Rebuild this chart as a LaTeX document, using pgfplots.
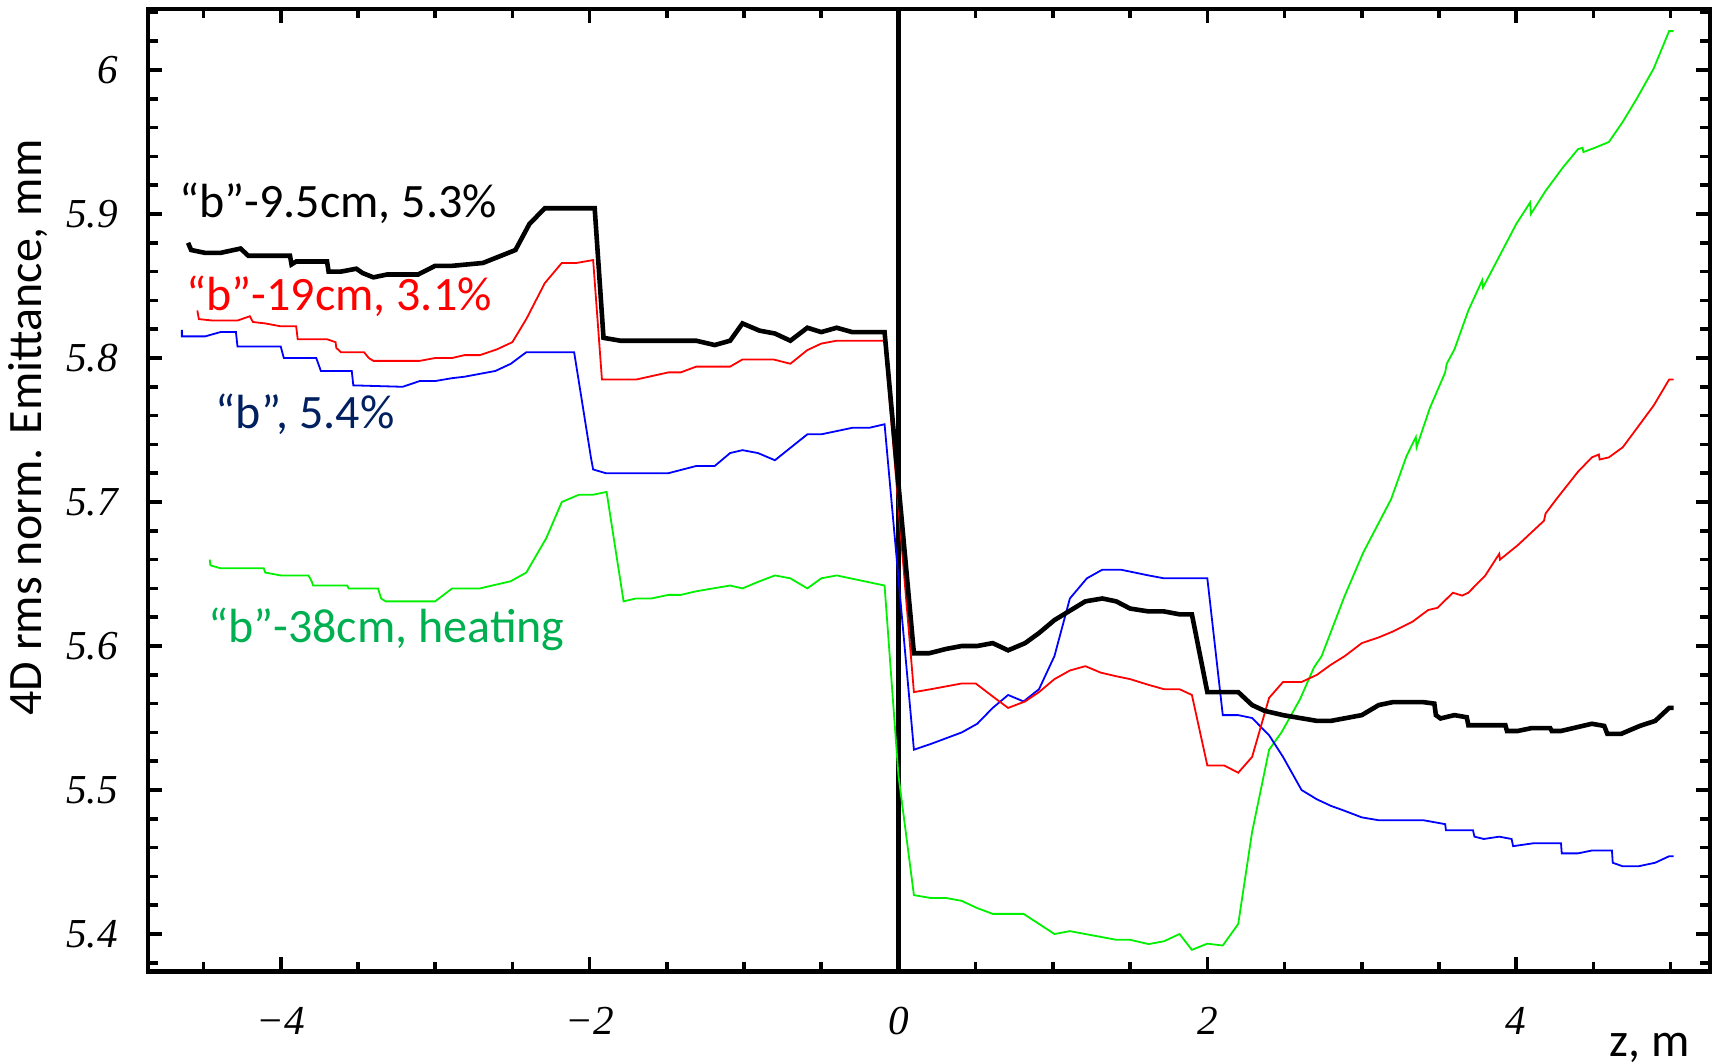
\documentclass[border=0pt]{standalone}
\usepackage{fontspec}
\setmainfont{Carlito}
\newfontfamily\tickfont{Liberation Serif}
\usepackage{pgfplots}
\pgfplotsset{compat=1.18}
\definecolor{lgreen}{RGB}{0,240,0}
\definecolor{txtgreen}{RGB}{0,176,80}
\definecolor{navy}{RGB}{0,32,96}
\newcommand{\tl}[1]{\mbox{\tickfont\itshape\fontsize{10.3}{12}\selectfont #1}}
\begin{document}
\begin{tikzpicture}
\begin{axis}[
  at={(0,0)}, anchor=south west,
  scale only axis, width=390.75pt, height=240.8pt,
  xmin=-4.86, xmax=5.255, ymin=5.374, ymax=6.0425,
  xtick={-4,-2,0,2,4}, xticklabels={\tl{−4},\tl{−2},\tl{0},\tl{2},\tl{4}},
  ytick={5.4,5.5,5.6,5.7,5.8,5.9,6.0}, yticklabels={\tl{5.4},\tl{5.5},\tl{5.6},\tl{5.7},\tl{5.8},\tl{5.9},\tl{6}},
  minor xtick={-4.5,-4,-3.5,-3,-2.5,-2,-1.5,-1,-0.5,0,0.5,1,1.5,2,2.5,3,3.5,4,4.5,5},
  minor ytick={5.38,5.42,5.44,5.46,5.48,5.52,5.54,5.56,5.58,5.62,5.64,5.66,5.68,5.72,5.74,5.76,5.78,5.82,5.84,5.86,5.88,5.92,5.94,5.96,5.98,6.02,6.04},
  major tick length=3.6pt, minor tick length=2.4pt,
  tick style={black, line width=0.9pt},
  axis line style={line width=1.05pt},
  xticklabel style={yshift=-5.5pt},
  yticklabel style={xshift=-4pt},
  ylabel={4D rms norm. Emittance, mm},
  ylabel style={at={(axis description cs:-0.077,0.565)}, anchor=center, font=\fontsize{12}{14}\selectfont},
  xlabel={z, m},
  xlabel style={at={(axis description cs:0.9613,-0.088)}, anchor=base, font=\fontsize{12}{14}\selectfont},
]
% vertical reference line at z=0
\addplot[black, line width=1.1pt] coordinates {(0,5.374) (0,6.0425)};

% green: "b"-38cm, heating
\addplot[lgreen, line width=0.45pt] table {
-4.46 5.660
-4.455 5.656
-4.39 5.654
-4.11 5.654
-4.10 5.651
-4.00 5.649
-3.82 5.649
-3.80 5.645
-3.79 5.642
-3.57 5.642
-3.56 5.640
-3.37 5.640
-3.35 5.633
-3.32 5.631
-3.00 5.631
-2.89 5.640
-2.71 5.640
-2.51 5.645
-2.41 5.651
-2.28 5.675
-2.18 5.700
-2.07 5.705
-1.98 5.705
-1.89 5.707
-1.78 5.631
-1.70 5.633
-1.60 5.633
-1.49 5.6355
-1.41 5.6355
-1.31 5.638
-1.09 5.642
-1.01 5.640
-0.91 5.6445
-0.80 5.649
-0.70 5.647
-0.59 5.640
-0.50 5.647
-0.40 5.649
-0.09 5.642
0.00 5.510
0.10 5.427
0.21 5.425
0.31 5.425
0.41 5.423
0.51 5.418
0.61 5.414
0.81 5.414
0.91 5.407
1.01 5.400
1.11 5.402
1.31 5.398
1.41 5.396
1.50 5.396
1.62 5.393
1.72 5.395
1.82 5.400
1.90 5.389
2.00 5.3933
2.10 5.392
2.20 5.407
2.29 5.471
2.40 5.528
2.48 5.540
2.60 5.563
2.69 5.585
2.74 5.593
2.89 5.635
3.01 5.665
3.19 5.702
3.29 5.732
3.35 5.745
3.355 5.738
3.44 5.765
3.54 5.790
3.55 5.796
3.60 5.806
3.69 5.833
3.78 5.854
3.785 5.849
4.00 5.893
4.09 5.908
4.095 5.900
4.19 5.916
4.30 5.932
4.40 5.945
4.43 5.946
4.435 5.943
4.51 5.946
4.60 5.950
4.69 5.964
4.78 5.980
4.89 6.001
4.99 6.027
5.02 6.027
};

% blue: "b", 5.4%
\addplot[blue, line width=0.45pt] table {
-4.64 5.8195
-4.64 5.815
-4.49 5.815
-4.39 5.818
-4.29 5.818
-4.28 5.808
-4.00 5.808
-3.98 5.800
-3.77 5.800
-3.74 5.791
-3.54 5.791
-3.53 5.781
-3.21 5.780
-3.10 5.784
-3.00 5.784
-2.89 5.786
-2.81 5.787
-2.61 5.791
-2.51 5.796
-2.41 5.804
-2.10 5.804
-1.99 5.730
-1.977 5.7226
-1.895 5.720
-1.49 5.720
-1.31 5.725
-1.19 5.725
-1.09 5.734
-1.01 5.736
-0.91 5.734
-0.80 5.729
-0.59 5.747
-0.50 5.747
-0.30 5.7515
-0.19 5.7515
-0.09 5.754
0.10 5.528
0.21 5.532
0.41 5.540
0.51 5.546
0.61 5.557
0.71 5.566
0.81 5.5615
0.91 5.570
1.01 5.593
1.11 5.633
1.22 5.647
1.32 5.653
1.44 5.653
1.62 5.649
1.72 5.647
2.00 5.647
2.10 5.552
2.20 5.552
2.29 5.550
2.40 5.538
2.49 5.523
2.61 5.500
2.71 5.4935
2.80 5.489
2.89 5.4855
3.00 5.481
3.11 5.479
3.40 5.479
3.54 5.4763
3.545 5.472
3.72 5.472
3.73 5.4676
3.79 5.466
3.89 5.4676
3.97 5.466
3.98 5.461
4.11 5.463
4.29 5.463
4.295 5.456
4.40 5.456
4.49 5.458
4.62 5.458
4.625 5.4495
4.69 5.447
4.79 5.447
4.90 5.4495
4.99 5.454
5.02 5.454
};

% red: "b"-19cm, 3.1%
\addplot[red, line width=0.45pt] table {
-4.54 5.833
-4.53 5.827
-4.44 5.826
-4.28 5.826
-4.20 5.829
-4.18 5.825
-4.10 5.824
-4.00 5.822
-3.90 5.822
-3.89 5.813
-3.70 5.813
-3.645 5.811
-3.64 5.807
-3.61 5.804
-3.46 5.804
-3.43 5.800
-3.40 5.798
-3.10 5.798
-3.00 5.800
-2.89 5.800
-2.81 5.802
-2.71 5.802
-2.60 5.806
-2.50 5.811
-2.41 5.827
-2.29 5.852
-2.18 5.866
-2.085 5.866
-1.977 5.868
-1.92 5.785
-1.70 5.785
-1.49 5.790
-1.41 5.790
-1.31 5.794
-1.09 5.794
-1.01 5.799
-0.81 5.799
-0.70 5.796
-0.59 5.8055
-0.50 5.810
-0.40 5.812
-0.09 5.812
0.10 5.568
0.21 5.570
0.41 5.574
0.50 5.574
0.61 5.565
0.71 5.557
0.82 5.5615
0.91 5.568
1.01 5.577
1.11 5.583
1.21 5.586
1.31 5.5815
1.41 5.579
1.50 5.577
1.62 5.573
1.72 5.570
1.82 5.570
1.90 5.566
2.00 5.517
2.11 5.517
2.20 5.512
2.29 5.523
2.40 5.564
2.49 5.575
2.61 5.575
2.71 5.580
2.80 5.587
2.89 5.593
3.00 5.602
3.11 5.606
3.20 5.610
3.33 5.617
3.43 5.625
3.49 5.6265
3.59 5.637
3.65 5.635
3.69 5.637
3.80 5.649
3.89 5.664
3.895 5.660
4.01 5.670
4.18 5.687
4.19 5.692
4.26 5.702
4.40 5.721
4.49 5.731
4.535 5.733
4.54 5.7295
4.60 5.731
4.69 5.738
4.78 5.751
4.89 5.767
4.99 5.785
5.02 5.785
};

% black: "b"-9.5cm, 5.3%
\addplot[black, line width=1.15pt] table {
-4.60 5.880
-4.58 5.875
-4.49 5.873
-4.39 5.873
-4.26 5.876
-4.21 5.871
-3.94 5.871
-3.93 5.865
-3.90 5.867
-3.70 5.867
-3.69 5.860
-3.61 5.860
-3.51 5.862
-3.47 5.859
-3.40 5.856
-3.31 5.858
-3.11 5.858
-3.00 5.864
-2.89 5.864
-2.69 5.866
-2.48 5.875
-2.39 5.893
-2.29 5.904
-1.967 5.904
-1.91 5.814
-1.80 5.812
-1.31 5.812
-1.19 5.809
-1.09 5.812
-1.01 5.824
-0.90 5.819
-0.80 5.817
-0.70 5.812
-0.59 5.821
-0.50 5.818
-0.40 5.821
-0.30 5.818
-0.09 5.818
0.10 5.595
0.20 5.595
0.31 5.598
0.41 5.600
0.51 5.600
0.61 5.602
0.71 5.597
0.82 5.602
0.91 5.609
1.01 5.618
1.11 5.6245
1.21 5.631
1.32 5.633
1.41 5.631
1.50 5.626
1.62 5.624
1.72 5.624
1.82 5.622
1.90 5.622
2.00 5.568
2.20 5.568
2.29 5.559
2.37 5.555
2.49 5.552
2.71 5.548
2.80 5.548
3.00 5.552
3.11 5.559
3.20 5.561
3.40 5.561
3.47 5.560
3.48 5.552
3.51 5.5497
3.60 5.552
3.68 5.5505
3.69 5.545
3.93 5.545
3.94 5.541
4.01 5.541
4.10 5.543
4.22 5.543
4.23 5.541
4.29 5.541
4.49 5.546
4.57 5.5445
4.59 5.539
4.68 5.539
4.80 5.5445
4.90 5.548
4.99 5.557
5.02 5.557
};

\node[anchor=base west, inner sep=0pt, font=\fontsize{12}{14}\selectfont, text=black] at (axis cs:-4.66,5.8975) {“b”-9.5cm, 5.3\%};
\node[anchor=base west, inner sep=0pt, font=\fontsize{12}{14}\selectfont, text=red] at (axis cs:-4.615,5.8327) {“b”-19cm, 3.1\%};
\node[anchor=base west, inner sep=0pt, font=\fontsize{12}{14}\selectfont, text=navy] at (axis cs:-4.425,5.751) {“b”, 5.4\%};
\node[anchor=base west, inner sep=0pt, font=\fontsize{12}{14}\selectfont, text=txtgreen] at (axis cs:-4.474,5.6027) {“b”-38cm, heating};
\end{axis}
\pgfresetboundingbox
\path[use as bounding box] (-37pt,-23pt) rectangle (393pt,243pt);
\end{tikzpicture}
\end{document}
